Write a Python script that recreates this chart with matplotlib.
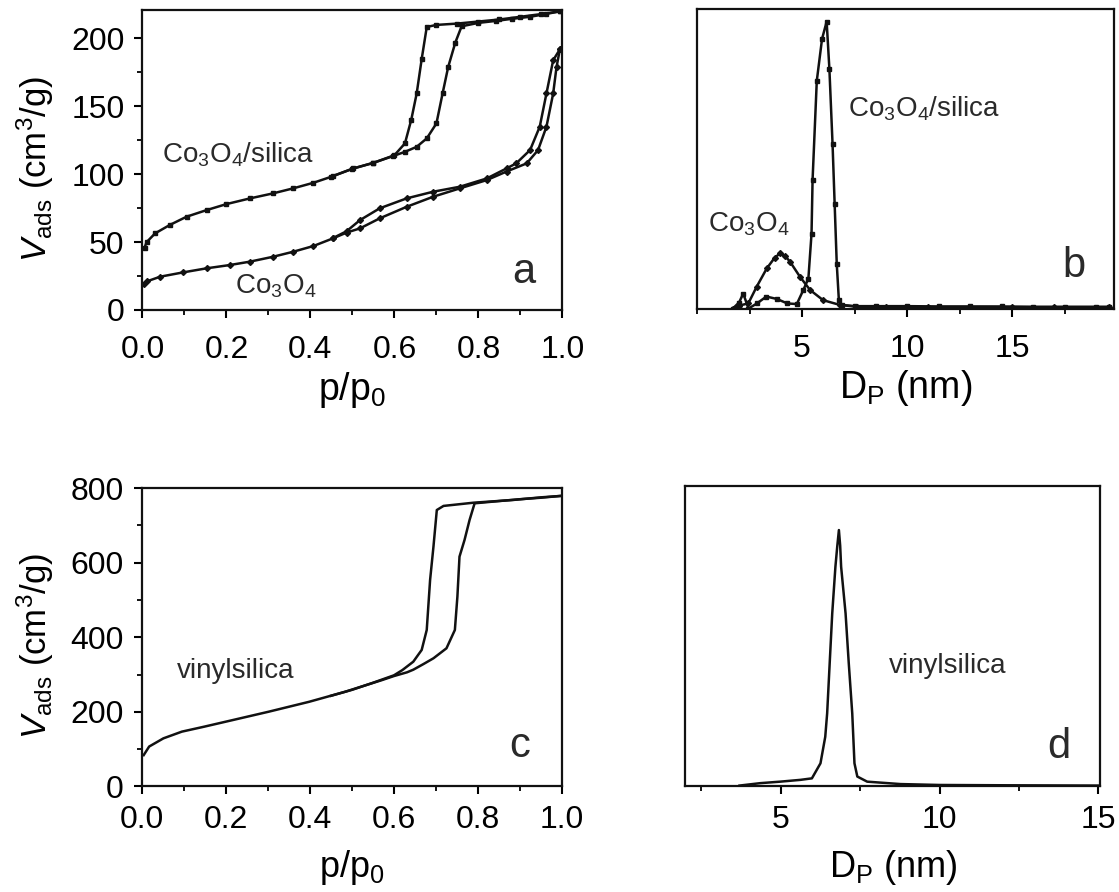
import matplotlib
matplotlib.use("Agg")
import matplotlib.pyplot as plt
from matplotlib.ticker import MultipleLocator

plt.rcParams.update({
    "font.family": ["Liberation Sans", "DejaVu Sans"],
    "mathtext.fontset": "custom",
    "mathtext.rm": "Liberation Sans",
    "mathtext.it": "Liberation Sans:italic",
    "mathtext.bf": "Liberation Sans:bold",
    "axes.linewidth": 1.6,
})

# panel a: N2 isotherms, Co3O4/silica and Co3O4
silica_ads_p = [0.005, 0.01, 0.03, 0.065, 0.105, 0.153, 0.2, 0.256, 0.311, 0.359, 0.407, 0.454,
                0.502, 0.55, 0.597, 0.625, 0.653, 0.677, 0.70, 0.715, 0.728, 0.745, 0.76, 0.80,
                0.843, 0.88, 0.923, 0.96, 0.994]
silica_ads_v = [46, 50, 56.4, 62.6, 68.7, 73.6, 78, 82.2, 85.9, 89.6, 93.7, 98.6,
                104.3, 108.4, 113.4, 116.5, 120.2, 126.4, 137.4, 160, 179, 197, 209, 211.5,
                213, 214.5, 216, 218, 220]
silica_des_p = [0.994, 0.95, 0.9, 0.85, 0.8, 0.75, 0.70, 0.677, 0.665, 0.653, 0.64, 0.625,
                0.60, 0.55, 0.5, 0.45]
silica_des_v = [220, 218, 216, 214, 212.5, 211, 210, 208.5, 185, 159.5, 140, 122.7,
                114, 108.4, 104, 98.3]

co_ads_p = [0.003, 0.01, 0.042, 0.097, 0.153, 0.208, 0.256, 0.311, 0.359, 0.407, 0.454, 0.486,
            0.518, 0.565, 0.629, 0.692, 0.756, 0.82, 0.867, 0.915, 0.942, 0.962, 0.978, 0.986, 0.994]
co_ads_v = [19, 21, 24.5, 27.7, 30.7, 33.1, 35.6, 39.2, 42.9, 47.1, 52.8, 57,
            60.1, 67.5, 76, 83.4, 89.6, 95.7, 102, 108, 117.8, 135, 159.5, 179, 192]
co_des_p = [0.994, 0.978, 0.962, 0.946, 0.923, 0.89, 0.867, 0.82, 0.756, 0.692, 0.629, 0.565,
            0.518, 0.486, 0.454]
co_des_v = [192, 184, 159.5, 135, 117.8, 108, 104.3, 96.9, 90.8, 87.1, 82.2, 74.9,
            66.2, 58, 53]

# panel b: pore size distributions (arbitrary units)
psd_silica_d = [1.7, 2.0, 2.2, 2.45, 2.85, 3.3, 3.8, 4.3, 4.75, 5.06, 5.3, 5.45, 5.5, 5.7,
                5.95, 6.17, 6.3, 6.45, 6.55, 6.65, 6.75, 6.9, 7.5, 8.5, 10, 11.5, 13, 14.5,
                16, 17.5, 19, 19.6]
psd_silica_y = [0.0, 0.02, 0.05, 0.0, 0.017, 0.04, 0.032, 0.017, 0.015, 0.062, 0.1, 0.25,
                0.43, 0.76, 0.9, 0.958, 0.8, 0.55, 0.35, 0.15, 0.03, 0.012, 0.008, 0.008,
                0.008, 0.007, 0.007, 0.007, 0.006, 0.006, 0.006, 0.006]
psd_co_d = [1.7, 2.0, 2.44, 2.84, 3.32, 3.7, 3.95, 4.2, 4.43, 4.9, 5.38, 6.0, 6.8, 7.6,
            9, 11, 13, 15, 17, 19.6]
psd_co_y = [0.0, 0.01, 0.017, 0.073, 0.134, 0.17, 0.184, 0.175, 0.156, 0.106, 0.062, 0.028,
            0.012, 0.006, 0.005, 0.005, 0.005, 0.004, 0.004, 0.004]

# panel c: vinylsilica isotherm
vinyl_ads_p = [0.004, 0.017, 0.051, 0.095, 0.147, 0.216, 0.302, 0.398, 0.484, 0.571, 0.6,
               0.631, 0.646, 0.67, 0.694, 0.725, 0.745, 0.751, 0.756, 0.768, 0.78, 0.792,
               0.85, 0.9, 0.95, 0.995]
vinyl_ads_v = [84, 107, 129, 147, 160, 178, 200.5, 227, 254, 285, 296,
               306, 313, 328, 343.6, 370.4, 419.5, 508.7, 616, 660.7, 714.3, 759,
               765, 770, 774, 778.6]
vinyl_des_p = [0.995, 0.95, 0.884, 0.789, 0.718, 0.702, 0.694, 0.686, 0.678, 0.666, 0.646,
               0.62, 0.6, 0.55, 0.5, 0.45]
vinyl_des_v = [778.6, 775, 768, 760.6, 752, 741, 642.7, 553.5, 419.5, 366, 334.5,
               312, 298, 278, 259, 243]

# panel d: vinylsilica pore size distribution
psd_vinyl_d = [3.7, 4.35, 4.98, 5.62, 5.98, 6.25, 6.4, 6.46, 6.54, 6.62, 6.72, 6.78, 6.83,
               6.87, 6.9, 7.04, 7.14, 7.25, 7.32, 7.41, 7.72, 8.77, 10, 12, 15]
psd_vinyl_y = [0.003, 0.011, 0.016, 0.022, 0.027, 0.077, 0.165, 0.243, 0.41, 0.575, 0.73,
               0.8, 0.852, 0.8, 0.73, 0.575, 0.41, 0.243, 0.077, 0.033, 0.016, 0.008,
               0.005, 0.004, 0.003]

INK = "#111111"
TXT = "#2a2a2a"
YLABEL = r"$V_{\mathrm{ads}}$ (cm$^3$/g)"


def style_axis(ax, xpad):
    ax.tick_params(which="major", direction="out", length=6, width=1.5, labelsize=23,
                   pad=xpad, top=False, right=False)
    ax.tick_params(which="minor", direction="out", length=3.5, width=1.3, top=False, right=False)
    ax.tick_params(axis="y", pad=7)
    for sp in ax.spines.values():
        sp.set_color(INK)


fig = plt.figure(figsize=(11.19, 8.92), dpi=100)
ax_a = fig.add_axes([0.1273, 0.6525, 0.3753, 0.3363])
ax_b = fig.add_axes([0.6229, 0.6541, 0.3727, 0.3358])
ax_c = fig.add_axes([0.1269, 0.1183, 0.3753, 0.3346])
ax_d = fig.add_axes([0.6126, 0.1183, 0.3704, 0.3374])

# a
ax_a.plot(silica_ads_p, silica_ads_v, "-s", color=INK, lw=1.8, ms=3.5)
ax_a.plot(silica_des_p, silica_des_v, "-s", color=INK, lw=1.8, ms=3.5)
ax_a.plot(co_ads_p, co_ads_v, "-D", color=INK, lw=1.8, ms=3)
ax_a.plot(co_des_p, co_des_v, "-D", color=INK, lw=1.8, ms=3)
ax_a.set_xlim(0, 1.0)
ax_a.set_ylim(0, 221)
ax_a.xaxis.set_major_locator(MultipleLocator(0.2))
ax_a.xaxis.set_minor_locator(MultipleLocator(0.1))
ax_a.yaxis.set_major_locator(MultipleLocator(50))
ax_a.yaxis.set_minor_locator(MultipleLocator(25))
ax_a.xaxis.set_major_formatter(plt.FormatStrFormatter("%.1f"))
style_axis(ax_a, 12)
ax_a.set_xlabel("p/p$_0$", fontsize=27)
ax_a.xaxis.set_label_coords(0.5, -0.2)
ax_a.set_ylabel(YLABEL, fontsize=25)
ax_a.yaxis.set_label_coords(-0.205, 0.47)
ax_a.text(0.046, 109, "Co$_3$O$_4$/silica", fontsize=20, color=TXT)
ax_a.text(0.22, 12.5, "Co$_3$O$_4$", fontsize=20, color=TXT)
ax_a.text(0.908, 0.09, "a", transform=ax_a.transAxes, fontsize=30, ha="center", color=TXT)

# b
ax_b.plot(psd_silica_d, psd_silica_y, "-s", color=INK, lw=1.8, ms=3)
ax_b.plot(psd_co_d, psd_co_y, "-D", color=INK, lw=1.8, ms=3)
ax_b.set_xlim(0, 19.85)
ax_b.set_ylim(0, 1.0)
ax_b.set_xticks([5, 10, 15])
ax_b.xaxis.set_minor_locator(MultipleLocator(2.5))
ax_b.set_yticks([])
style_axis(ax_b, 12)
ax_b.set_xlabel("D$_\\mathrm{P}$ (nm)", fontsize=27)
ax_b.xaxis.set_label_coords(0.5, -0.2)
ax_b.text(7.19, 0.64, "Co$_3$O$_4$/silica", fontsize=20, color=TXT)
ax_b.text(0.54, 0.256, "Co$_3$O$_4$", fontsize=20, color=TXT)
ax_b.text(0.904, 0.106, "b", transform=ax_b.transAxes, fontsize=30, ha="center", color=TXT)

# c
ax_c.plot(vinyl_ads_p, vinyl_ads_v, "-", color=INK, lw=1.8)
ax_c.plot(vinyl_des_p, vinyl_des_v, "-", color=INK, lw=1.8)
ax_c.set_xlim(0, 1.0)
ax_c.set_ylim(0, 800)
ax_c.xaxis.set_major_locator(MultipleLocator(0.2))
ax_c.xaxis.set_minor_locator(MultipleLocator(0.1))
ax_c.yaxis.set_major_locator(MultipleLocator(200))
ax_c.yaxis.set_minor_locator(MultipleLocator(100))
ax_c.xaxis.set_major_formatter(plt.FormatStrFormatter("%.1f"))
style_axis(ax_c, 7)
ax_c.set_xlabel("p/p$_0$", fontsize=26)
ax_c.xaxis.set_label_coords(0.5, -0.205)
ax_c.set_ylabel(YLABEL, fontsize=25)
ax_c.yaxis.set_label_coords(-0.205, 0.47)
ax_c.text(0.082, 291, "vinylsilica", fontsize=20, color=TXT)
ax_c.text(0.9, 0.099, "c", transform=ax_c.transAxes, fontsize=30, ha="center", color=TXT)

# d
ax_d.plot(psd_vinyl_d, psd_vinyl_y, "-", color=INK, lw=1.8)
ax_d.set_xlim(2, 15.05)
ax_d.set_ylim(0, 1.0)
ax_d.set_xticks([5, 10, 15])
ax_d.xaxis.set_minor_locator(MultipleLocator(2.5))
ax_d.set_yticks([])
style_axis(ax_d, 7)
ax_d.set_xlabel("D$_\\mathrm{P}$ (nm)", fontsize=26)
ax_d.xaxis.set_label_coords(0.5, -0.205)
ax_d.text(8.41, 0.376, "vinylsilica", fontsize=20, color=TXT)
ax_d.text(0.90, 0.095, "d", transform=ax_d.transAxes, fontsize=30, ha="center", color=TXT)

fig.savefig("out.png", dpi=100)
